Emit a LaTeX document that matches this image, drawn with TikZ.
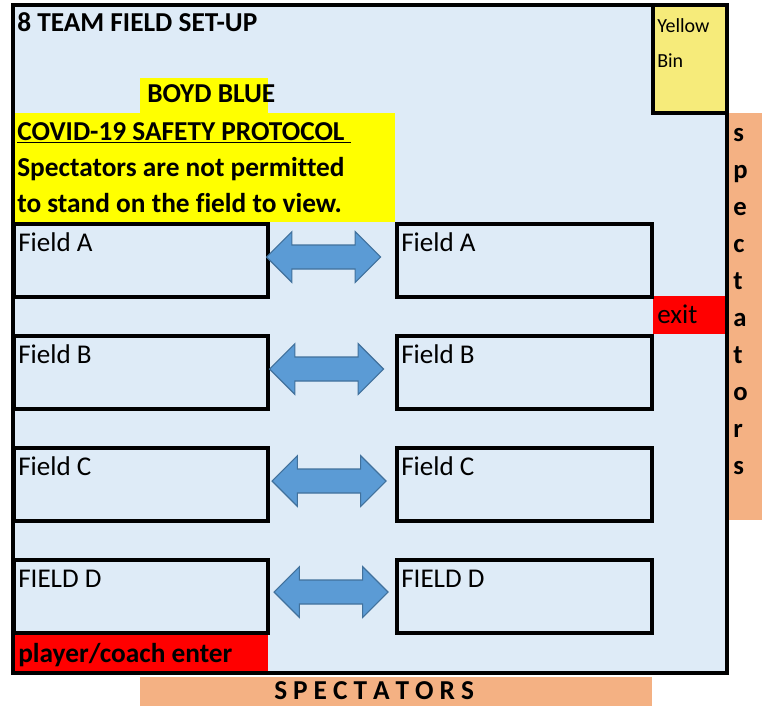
\documentclass[tikz,border=0pt]{standalone}
\usepackage{fontspec}
\setmainfont{Carlito}[Ligatures=CommonOff]
\usetikzlibrary{shapes.arrows}

\definecolor{fieldblue}{HTML}{DEEBF7}
\definecolor{hiyellow}{HTML}{FFFF00}
\definecolor{binyellow}{HTML}{F6EB7A}
\definecolor{specorange}{HTML}{F4B183}
\definecolor{arrowblue}{HTML}{5B9BD5}
\definecolor{arrowedge}{HTML}{41719C}

\begin{document}
\begin{tikzpicture}[
  x=0.75pt,
  y=-0.75pt,
  field/.style={
    draw,
    line width=3pt,
    minimum width=191pt,
    minimum height=55pt,
    inner sep=0pt
  },
  fieldtxt/.style={anchor=base west, inner sep=0pt, font=\fontsize{20.3}{24}\selectfont},
  boldtxt/.style={anchor=base west, inner sep=0pt, font=\fontsize{20.5}{24}\selectfont\bfseries},
  swaparrow/.style={
    double arrow,
    double arrow head extend=10pt,
    minimum width=37.5pt,
    minimum height=85.5pt,
    inner xsep=0pt,
    inner ysep=8.6pt,
    fill=arrowblue,
    draw=arrowedge,
    line width=0.8pt
  }
]
  \useasboundingbox (0,0) rectangle (762,706);

  % Playing area
  \fill[fieldblue] (13,5) rectangle (727,673);

  % Notice panels
  \fill[hiyellow] (140,78) rectangle (268,113);
  \fill[hiyellow] (15,113) rectangle (395,222);

  % Entry and exit
  \fill[red] (653,296) rectangle (725,334);
  \fill[red] (15,635) rectangle (268,671);

  % Spectator areas
  \fill[specorange] (729,113) rectangle (762,520);
  \fill[specorange] (140,677) rectangle (652,706);

  % Bin corner
  \fill[binyellow] (654,7) rectangle (725,111);
  \draw[line width=3pt] (653,5) -- (653,113) -- (727,113);

  \draw[line width=3pt] (13,5) rectangle (727,673);

  % Fields, left column
  \node[field] (leftA) at (141,260.5) {};
  \node[field] (leftB) at (141,372.5) {};
  \node[field] (leftC) at (141,484.5) {};
  \node[field] (leftD) at (141,596.5) {};

  % Fields, right column
  \node[field] (rightA) at (524.5,260.5) {};
  \node[field] (rightB) at (524.5,372.5) {};
  \node[field] (rightC) at (524.5,484.5) {};
  \node[field] (rightD) at (524.5,596.5) {};

  % Teams swap between paired fields
  \node[swaparrow] (swapA) at (323.5,257) {};
  \node[swaparrow] (swapB) at (326.5,369) {};
  \node[swaparrow] (swapC) at (329,481) {};
  \node[swaparrow] (swapD) at (331,592) {};

  % Field labels
  \node[fieldtxt] (labLA) at (18,251) {Field A};
  \node[fieldtxt] (labLB) at (18,363) {Field B};
  \node[fieldtxt] (labLC) at (18,475) {Field C};
  \node[fieldtxt] (labLD) at (18,587) {FIELD D};
  \node[fieldtxt] (labRA) at (401,251) {Field A};
  \node[fieldtxt] (labRB) at (401,363) {Field B};
  \node[fieldtxt] (labRC) at (401,475) {Field C};
  \node[fieldtxt] (labRD) at (401,587) {FIELD D};

  % Headings and notice
  \node[boldtxt] (title) at (17,32) {8 TEAM FIELD SET-UP};
  \node[boldtxt] (club) at (147,103) {BOYD BLUE};
  \node[boldtxt] (protocol) at (17,140) {\underline{COVID-19 SAFETY PROTOCOL~}};
  \node[boldtxt] (rule1) at (17,176) {Spectators are not permitted};
  \node[boldtxt] (rule2) at (17,212) {to stand on the field to view.};

  % Gates and bin
  \node[fieldtxt] (exit) at (657,323) {exit};
  \node[boldtxt] (enter) at (18,662) {player/coach enter};
  \node[fieldtxt, font=\fontsize{15}{18}\selectfont] (bin1) at (657,33) {Yellow};
  \node[fieldtxt, font=\fontsize{15}{18}\selectfont] (bin2) at (657,68) {Bin};

  % Spectator labels
  \node[boldtxt, anchor=north west, align=left,
    font=\fontsize{20}{27.75}\selectfont\bfseries] (specside) at (733,128)
    {s\\p\\e\\c\\t\\a\\t\\o\\r\\s};
  \node[boldtxt] (specbottom) at (274,699)
    {\spaceskip=4.5pt\relax S P E C T A T O R S};

\end{tikzpicture}
\end{document}
